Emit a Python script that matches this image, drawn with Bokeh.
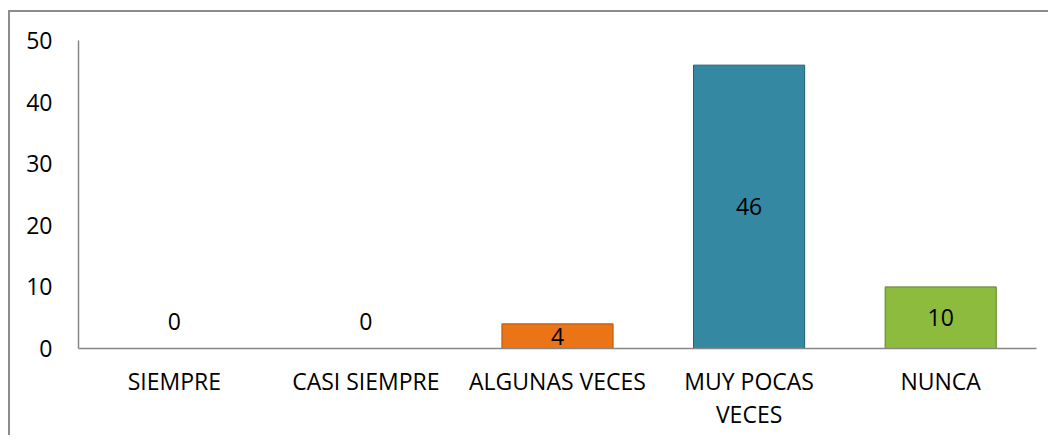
from bokeh.plotting import figure
from bokeh.models import ColumnDataSource, Range1d, FactorRange
from bokeh.core.properties import value
from bokeh.embed import file_html
from bokeh.resources import INLINE

categories = ["SIEMPRE", "CASI SIEMPRE", "ALGUNAS VECES", "MUY POCAS\nVECES", "NUNCA"]
values = [0, 0, 4, 46, 10]
colors = ["#E46C0A", "#E46C0A", "#EA7416", "#3588A2", "#8DBB3E"]
edge_colors = ["#B35407", "#B35407", "#B35407", "#235F72", "#637F2C"]
y_ticks = [0, 10, 20, 30, 40, 50]

FONT = "Open Sans"

p = figure(
    x_range=FactorRange(*categories, range_padding=0),
    y_range=Range1d(0, 50),
    width=1040, height=425,
    output_backend="svg", toolbar_location=None,
    min_border_left=68, min_border_right=14,
    min_border_top=28, min_border_bottom=89,
)
p.styles = {"border-left": "2px solid #8c8c8c", "border-top": "2px solid #8c8c8c",
            "margin-top": "10px", "margin-left": "8px"}
p.outline_line_color = None
p.background_fill_color = "white"
p.border_fill_color = "white"
p.xgrid.grid_line_color = None
p.ygrid.grid_line_color = None

src = ColumnDataSource(dict(
    x=[c for c, v in zip(categories, values) if v > 0],
    top=[v for v in values if v > 0],
    mid=[v / 2 for v in values if v > 0],
    label=[str(v) for v in values if v > 0],
    color=[col for v, col in zip(values, colors) if v > 0],
    edge=[e for v, e in zip(values, edge_colors) if v > 0],
))
p.vbar(x="x", top="top", bottom=0, width=0.58, source=src,
       fill_color="color", line_color="edge", line_width=1)
p.text(x="x", y="mid", text="label", source=src,
       text_font=value(FONT), text_font_size="23px", text_color="black",
       text_align="center", text_baseline="middle")

zsrc = ColumnDataSource(dict(
    x=[c for c, v in zip(categories, values) if v == 0],
    y=[v for v in values if v == 0],
    label=[str(v) for v in values if v == 0],
))
p.text(x="x", y="y", text="label", source=zsrc, y_offset=-27,
       text_font=value(FONT), text_font_size="23px", text_color="black",
       text_align="center", text_baseline="middle")

p.yaxis.ticker = y_ticks
for ax in (p.xaxis[0], p.yaxis[0]):
    ax.axis_line_color = "#868686"
    ax.axis_line_width = 1.5
    ax.major_tick_line_color = None
    ax.minor_tick_line_color = None
    ax.major_label_text_font = FONT
    ax.major_label_text_font_size = "23px"
    ax.major_label_text_color = "black"
p.yaxis.major_label_standoff = 20
p.xaxis.major_label_standoff = 10
p.xaxis.major_label_text_line_height = 1.05

open("out.html", "w").write(file_html(p, INLINE))
